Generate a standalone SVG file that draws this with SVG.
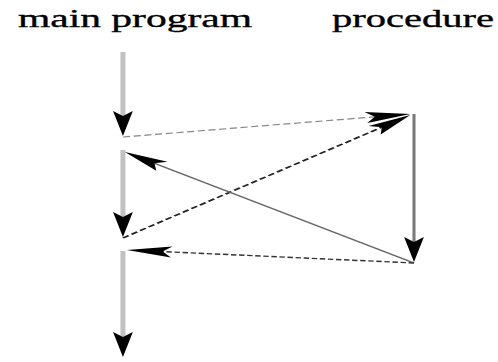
<svg xmlns="http://www.w3.org/2000/svg" width="498" height="362" viewBox="0 0 498 362">
<style>
.lbl{font-family:"Liberation Serif","Times New Roman",serif;font-size:26px;fill:#000;stroke:#000;stroke-width:0.35}
.main{stroke:#c2c2c2;stroke-width:2.8;fill:none}
.proc{stroke:#7a7a7a;stroke-width:1.7;fill:none}
.call{stroke:#222;stroke-width:1.5;fill:none;stroke-dasharray:4 2}
.call2{stroke:#888;stroke-width:1.2;fill:none;stroke-dasharray:4 2}
.ret{stroke:#666;stroke-width:1.3;fill:none}
.retd{stroke:#333;stroke-width:1.4;fill:none;stroke-dasharray:3 1.5}
</style>
<defs>
<marker id="ah" markerUnits="userSpaceOnUse" viewBox="-6 -6 26 12" markerWidth="26" markerHeight="12" refX="0" refY="0" orient="auto" overflow="visible">
<path d="M19,0 L-6,-5.5 L-1,0 L-6,5.5 Z" fill="#000"/>
</marker>
</defs>
<rect width="498" height="362" fill="#fff"/>
<g id="main-program">
<text class="lbl" x="18" y="27" textLength="234" lengthAdjust="spacingAndGlyphs">main program</text>
</g>
<g id="procedure">
<text class="lbl" x="332" y="27" textLength="162" lengthAdjust="spacingAndGlyphs">procedure</text>
</g>
<g id="connectors" transform="scale(1.8,1)">
<line class="main" x1="68.3" y1="52" x2="68.3" y2="117" marker-end="url(#ah)"/>
<line class="main" x1="68.3" y1="150" x2="68.3" y2="218" marker-end="url(#ah)"/>
<line class="main" x1="68.3" y1="251" x2="68.3" y2="338" marker-end="url(#ah)"/>
<line class="proc" x1="230" y1="114" x2="230" y2="243" marker-end="url(#ah)"/>
<line class="call2" x1="68.3" y1="137" x2="209.2" y2="116.7" marker-end="url(#ah)"/>
<line class="call" x1="68.3" y1="238" x2="212.9" y2="126.6" marker-end="url(#ah)"/>
<line class="ret" x1="230" y1="263" x2="85" y2="162.8" marker-end="url(#ah)"/>
<line class="retd" x1="230" y1="263" x2="89.4" y2="251.5" marker-end="url(#ah)"/>
</g>
</svg>
